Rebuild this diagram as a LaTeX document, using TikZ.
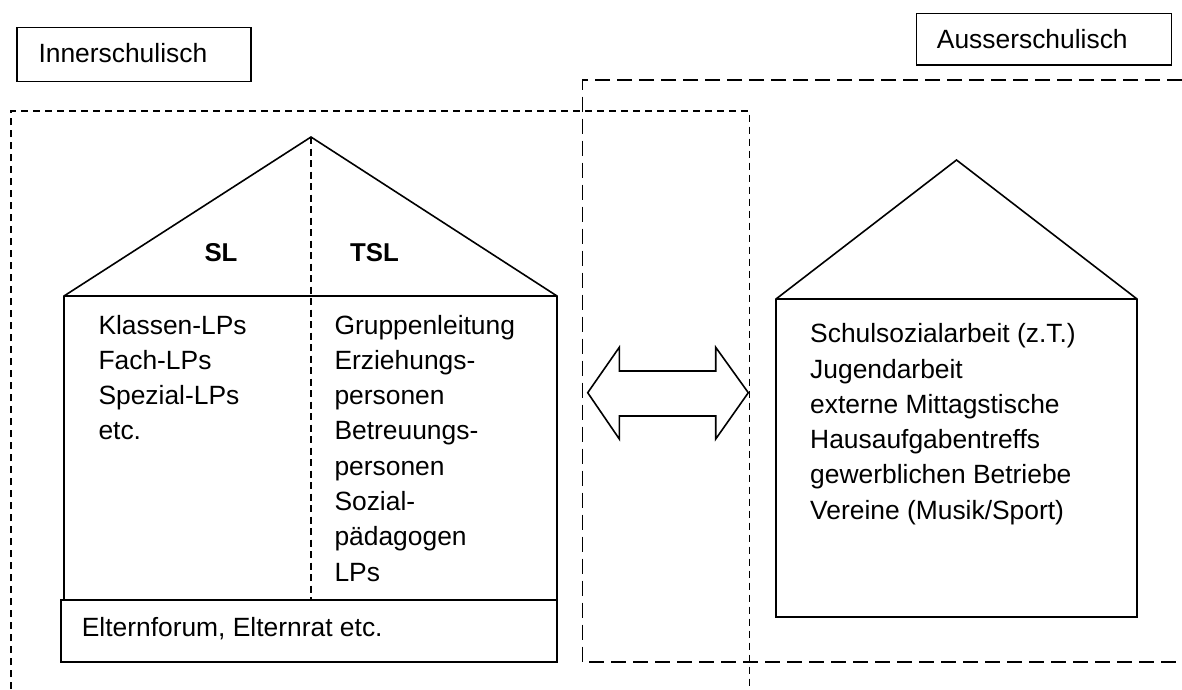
\documentclass[tikz,border=0pt]{standalone}
\usepackage{fontspec}
\setmainfont{Liberation Sans}
\begin{document}
\begin{tikzpicture}[x=1pt,y=-1pt,
  solidline/.style={line width=1.6pt, line join=miter},
  shortdash/.style={line width=1.6pt, dash pattern=on 7pt off 5pt},
  longdash/.style={line width=1.8pt, dash pattern=on 15pt off 7pt},
  divider/.style={line width=1.3pt, dash pattern=on 7pt off 4.5pt},
  txt/.style={anchor=base west, inner sep=0pt, font=\fontsize{26.4}{35.3}\selectfont},
  boldtxt/.style={txt, font=\fontsize{25.8}{30}\selectfont\bfseries},
  titlebox/.style={draw, solidline, anchor=north west, inner sep=0pt}]
\useasboundingbox (0,0) rectangle (1182,689);

% dashed areas: inside the school (short dashes) and outside it (long dashes)
\draw[shortdash] (11,689) -- (11,111) -- (749.5,111) -- (749.5,689);
\draw[longdash] (1182,80) -- (582.5,80) -- (582.5,662) -- (1182,662);

% area titles
\node[titlebox, minimum width=234pt, minimum height=54pt] (innerbox) at (16,26.7) {};
\node[txt] (innertitle) at (38.3,62.7) {Innerschulisch};
\node[titlebox, minimum width=255pt, minimum height=51.3pt] (ausserbox) at (915.7,12.7) {};
\node[txt] (aussertitle) at (936.7,48) {Ausserschulisch};

% school house with roof and the SL / TSL split
\draw[solidline] (64,600) -- (64,296) -- (311,137) -- (557,296) -- (557,600);
\draw[solidline] (64,296) -- (557,296);
\draw[divider] (311,137) -- (311,600);
\node[boldtxt] (sl) at (204.3,261.7) {SL};
\node[boldtxt] (tsl) at (350,261.7) {TSL};

\node[txt] (slstaff) at (98.3,334) {\begin{tabular}[t]{@{}l@{}}
Klassen-LPs\\ Fach-LPs\\ Spezial-LPs\\ etc.\end{tabular}};
\node[txt] (tslstaff) at (334.3,334) {\begin{tabular}[t]{@{}l@{}}
Gruppenleitung\\ Erziehungs-\\ personen\\ Betreuungs-\\ personen\\ Sozial-\\ pädagogen\\ LPs\end{tabular}};

% parents as the foundation
\draw[solidline] (61,600) rectangle (557,662);
\node[txt] (eltern) at (81.6,636.7) {Elternforum, Elternrat etc.};

% exchange between both sides
\draw[solidline, fill=white] (587.7,392.7) -- (619.3,347.3) -- (619.3,371) -- (715.7,371)
  -- (715.7,347.3) -- (748.3,392.7) -- (715.7,439) -- (715.7,416) -- (619.3,416)
  -- (619.3,439) -- cycle;

% house of the partners outside the school
\draw[solidline] (776,617) -- (776,299) -- (956.5,160) -- (1137,299) -- (1137,617) -- cycle;
\draw[solidline] (776,299) -- (1137,299);
\node[txt] (partners) at (810,342.7) {\begin{tabular}[t]{@{}l@{}}
Schulsozialarbeit (z.T.)\\ Jugendarbeit\\ externe Mittagstische\\ Hausaufgabentreffs\\
gewerblichen Betriebe\\ Vereine (Musik/Sport)\end{tabular}};
\end{tikzpicture}
\end{document}
